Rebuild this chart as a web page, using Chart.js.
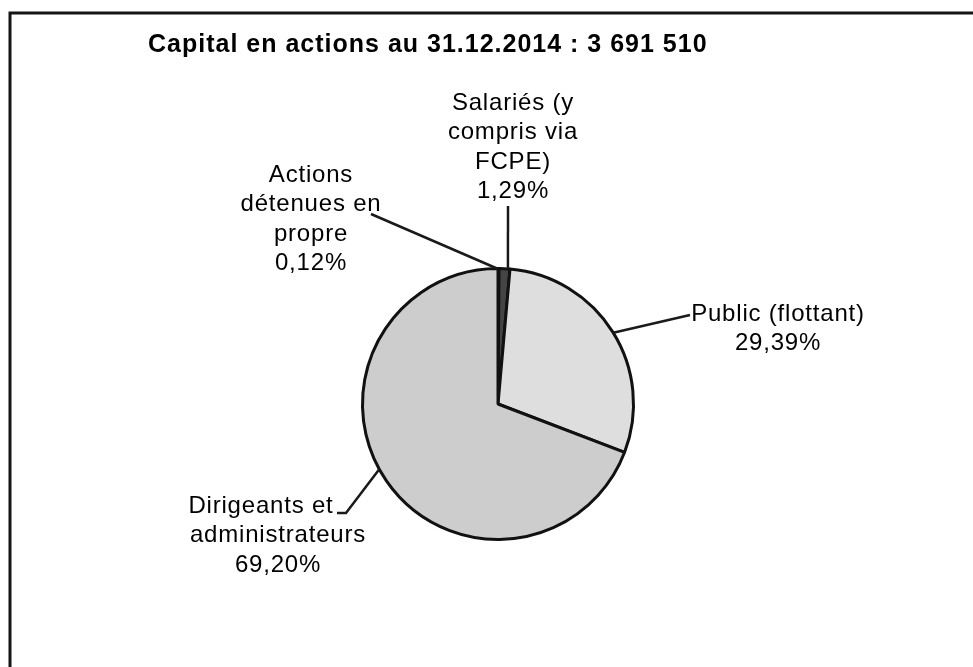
<!DOCTYPE html>
<html>
<head>
<meta charset="utf-8">
<script src="https://cdn.jsdelivr.net/npm/chart.js@4.4.1/dist/chart.umd.min.js"></script>
<style>
  body { margin: 0; background: #fff; }
  #wrap { position: relative; width: 973px; height: 667px; overflow: hidden; }
</style>
</head>
<body>
<div id="wrap"><canvas id="pieChart" width="973" height="667"></canvas></div>
<script>
// data
const titleText = "Capital en actions au 31.12.2014 : 3 691 510";
const categories = ["Actions détenues en propre", "Salariés (y compris via FCPE)", "Public (flottant)", "Dirigeants et administrateurs"];
const shares = [0.12, 1.29, 29.39, 69.20];
const labelLines = [
  ["Actions", "détenues en", "propre", "0,12%"],
  ["Salariés (y", "compris via", "FCPE)", "1,29%"],
  ["Public (flottant)", "29,39%"],
  ["Dirigeants et", "administrateurs", "69,20%"]
];
const sliceColors = ["#1e1e1e", "#444444", "#dedede", "#cdcdcd"];

// label placement, relative to the pie centre
const labelSpots = [
  { dx: -187, dy: -229, shift: [0, 0, 0, 0], lead: [[-127, -190]], edgeDeg: -90.4 },
  { dx: 15, dy: -301, shift: [0, 0, 0, 0], lead: [[10, -198]], edgeDeg: -85.8 },
  { dx: 280, dy: -90, shift: [0, 0], lead: [[192, -89]], edgeDeg: -31.7 },
  { dx: -220, dy: 102, shift: [-17, 0, 0], lead: [[-161, 109], [-152, 109]], edgeDeg: 151.2 }
];

const frameAndLabels = {
  id: "frameAndLabels",
  afterDraw(chart) {
    const ctx = chart.ctx;
    const arc = chart.getDatasetMeta(0).data[0];
    const cx = arc.x, cy = arc.y, r = arc.outerRadius;

    ctx.save();
    // frame
    ctx.strokeStyle = "#151515";
    ctx.lineWidth = 3;
    ctx.beginPath();
    ctx.moveTo(10, 700);
    ctx.lineTo(10, 13);
    ctx.lineTo(990, 13);
    ctx.stroke();

    // title
    ctx.fillStyle = "#000";
    ctx.font = "bold 25px 'Liberation Sans', Arial, sans-serif";
    ctx.letterSpacing = "1px";
    ctx.textAlign = "left";
    ctx.textBaseline = "middle";
    ctx.fillText(titleText, 148, 45);

    // data labels + leader lines
    ctx.font = "24px 'Liberation Sans', Arial, sans-serif";
    ctx.letterSpacing = "0.8px";
    ctx.textAlign = "center";
    labelSpots.forEach((s, i) => {
      labelLines[i].forEach((t, k) => {
        ctx.fillText(t, cx + s.dx + s.shift[k], cy + s.dy + k * 29.5);
      });
      const a = s.edgeDeg * Math.PI / 180;
      ctx.strokeStyle = "#1a1a1a";
      ctx.lineWidth = 2.5;
      ctx.beginPath();
      s.lead.forEach((p, k) => {
        if (k === 0) ctx.moveTo(cx + p[0], cy + p[1]);
        else ctx.lineTo(cx + p[0], cy + p[1]);
      });
      ctx.lineTo(cx + r * Math.cos(a), cy + r * Math.sin(a));
      ctx.stroke();
    });
    ctx.restore();
  }
};

new Chart(document.getElementById("pieChart"), {
  type: "pie",
  data: {
    labels: categories,
    datasets: [{
      data: shares,
      backgroundColor: sliceColors,
      borderColor: "#111",
      borderWidth: 3
    }]
  },
  options: {
    responsive: false,
    animation: false,
    layout: { padding: { left: 361, right: 338, top: 267, bottom: 126 } },
    plugins: {
      legend: { display: false },
      tooltip: { enabled: false },
      title: { display: false }
    }
  },
  plugins: [frameAndLabels]
});
</script>
</body>
</html>
